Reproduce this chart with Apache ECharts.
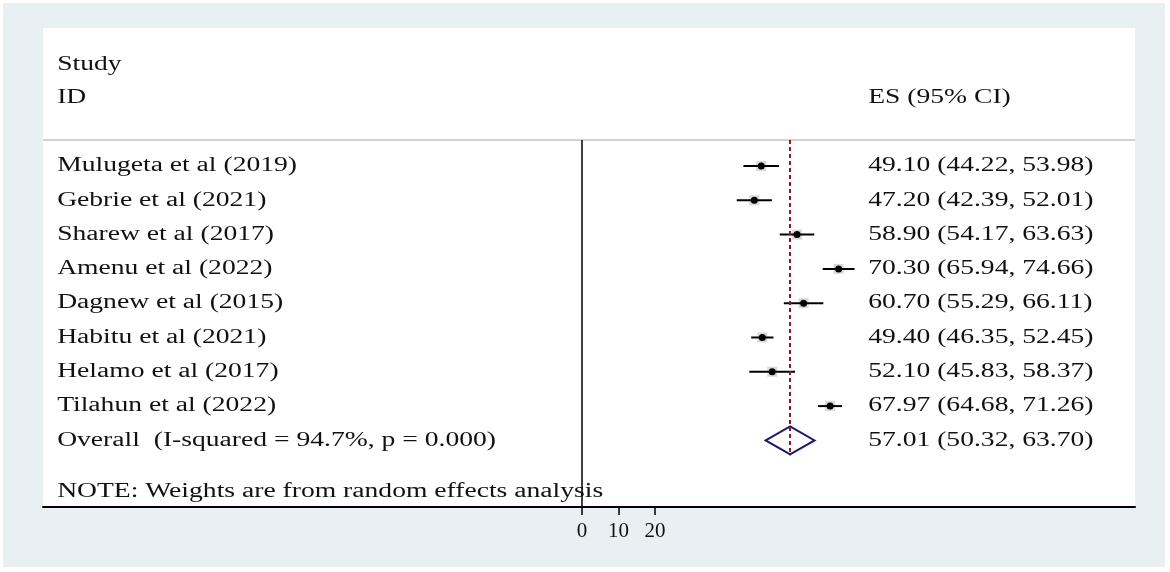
<!DOCTYPE html>
<html>
<head>
<meta charset="UTF-8">
<title>Forest plot</title>
<script src="https://cdn.jsdelivr.net/npm/echarts@6/dist/echarts.min.js"></script>
<style>
    body { margin: 0; background: #ffffff; overflow: hidden; }
    #chart {
        position: absolute;
        left: 3px;
        top: 3px;
        width: 1162px;
        height: 564px;
        background: #e9f0f3;
    }
</style>
</head>
<body>
<div id="chart"></div>
<script>
// study data
const studies = ['Mulugeta et al (2019)', 'Gebrie et al (2021)', 'Sharew et al (2017)', 'Amenu et al (2022)',
    'Dagnew et al (2015)', 'Habitu et al (2021)', 'Helamo et al (2017)', 'Tilahun et al (2022)'];
const es = [49.10, 47.20, 58.90, 70.30, 60.70, 49.40, 52.10, 67.97];
const ciLow = [44.22, 42.39, 54.17, 65.94, 55.29, 46.35, 45.83, 64.68];
const ciHigh = [53.98, 52.01, 63.63, 74.66, 66.11, 52.45, 58.37, 71.26];

// pooled estimate
const overallLabel = 'Overall  (I-squared = 94.7%, p = 0.000)';
const overallEs = [57.01];
const overallLow = [50.32];
const overallHigh = [63.70];

// texts and ticks
const headerLabels = ['Study', 'ID'];
const esHeader = 'ES (95% CI)';
const noteText = 'NOTE: Weights are from random effects analysis';
const xTicks = [0, 10, 20];

// layout in axis units
const X_MIN = -147.67, X_MAX = 151.5;
const Y_MIN = -4.023, Y_MAX = 9.942;
const LABEL_X = -143.8, VALUE_X = 78.4;
const HEADER_Y = -0.76;
const OVERALL_ROW = studies.length;
const FONT = '20px "Liberation Serif", "Times New Roman", serif';
const STRETCH = 1.38;

function fmt(v) { return v.toFixed(2); }

// every text line: [x, row, text]
const textRows = [
    [LABEL_X, -2.94, headerLabels[0]],
    [LABEL_X, -1.98, headerLabels[1]],
    [VALUE_X, -1.98, esHeader]
];
studies.forEach(function(name, i) {
    textRows.push([LABEL_X, i, name]);
    textRows.push([VALUE_X, i, fmt(es[i]) + ' (' + fmt(ciLow[i]) + ', ' + fmt(ciHigh[i]) + ')']);
});
textRows.push([LABEL_X, OVERALL_ROW, overallLabel]);
textRows.push([VALUE_X, OVERALL_ROW, fmt(overallEs[0]) + ' (' + fmt(overallLow[0]) + ', ' + fmt(overallHigh[0]) + ')']);
textRows.push([LABEL_X, 9.5, noteText]);

const ciData = studies.map(function(name, i) {
    return [es[i], ciLow[i], ciHigh[i], i];
});

const chart = echarts.init(document.getElementById('chart'));

const option = {
    animation: false,
    grid: {
        left: 40, right: 30, top: 25, bottom: 60,
        show: true, backgroundColor: '#ffffff', borderWidth: 0
    },
    xAxis: {
        type: 'value',
        min: X_MIN,
        max: X_MAX,
        splitLine: { show: false },
        axisLine: { show: true, onZero: false, lineStyle: { color: '#000000', width: 2 } },
        axisTick: {
            show: true, length: 8, customValues: xTicks,
            lineStyle: { color: '#000000', width: 1.5 }
        },
        axisLabel: {
            customValues: xTicks,
            margin: 14,
            color: '#111111',
            fontFamily: '"Liberation Serif", serif',
            fontSize: 21
        }
    },
    yAxis: {
        type: 'value',
        inverse: true,
        min: Y_MIN,
        max: Y_MAX,
        show: false
    },
    series: [
        {
            // header separator, null line, pooled estimate line
            type: 'line',
            data: [],
            markLine: {
                silent: true,
                symbol: 'none',
                label: { show: false },
                data: [
                    [{ coord: [X_MIN, HEADER_Y], lineStyle: { color: '#d2d2d2', width: 2, type: 'solid' } },
                     { coord: [X_MAX, HEADER_Y] }],
                    [{ coord: [0, HEADER_Y], lineStyle: { color: '#000000', width: 1.5, type: 'solid' } },
                     { coord: [0, Y_MAX] }],
                    [{ coord: [overallEs[0], HEADER_Y], lineStyle: { color: '#8e1b1b', width: 2, type: [4, 3] } },
                     { coord: [overallEs[0], 8.43] }]
                ]
            }
        },
        {
            // study CI lines, weight boxes and points
            type: 'custom',
            data: ciData,
            renderItem: function(params, api) {
                const y = api.value(3);
                const p = api.coord([api.value(0), y]);
                const a = api.coord([api.value(1), y]);
                const b = api.coord([api.value(2), y]);
                return {
                    type: 'group',
                    children: [
                        { type: 'rect', shape: { x: p[0] - 5, y: p[1] - 5, width: 10, height: 10 },
                          style: { fill: '#d9d9d9' } },
                        { type: 'line', shape: { x1: a[0], y1: a[1], x2: b[0], y2: b[1] },
                          style: { stroke: '#000000', lineWidth: 2 } },
                        { type: 'circle', shape: { cx: p[0], cy: p[1], r: 3.5 },
                          style: { fill: '#000000' } }
                    ]
                };
            }
        },
        {
            // pooled diamond
            type: 'custom',
            data: [[overallEs[0], overallLow[0], overallHigh[0], OVERALL_ROW]],
            renderItem: function(params, api) {
                const y = api.value(3);
                const l = api.coord([api.value(1), y]);
                const r = api.coord([api.value(2), y]);
                const top = api.coord([api.value(0), y - 0.41]);
                const bot = api.coord([api.value(0), y + 0.41]);
                return {
                    type: 'polygon',
                    shape: { points: [[l[0], l[1]], [top[0], top[1]], [r[0], r[1]], [bot[0], bot[1]]] },
                    style: { fill: 'none', stroke: '#1b1b6b', lineWidth: 2 }
                };
            }
        },
        {
            // texts
            type: 'custom',
            data: textRows.map(function(t) { return [t[0], t[1]]; }),
            renderItem: function(params, api) {
                const pt = api.coord([api.value(0), api.value(1)]);
                return {
                    type: 'text',
                    x: pt[0],
                    y: pt[1],
                    scaleX: STRETCH,
                    style: {
                        x: 0, y: 0,
                        text: textRows[params.dataIndex][2],
                        font: FONT,
                        fill: '#111111',
                        textAlign: 'left',
                        textVerticalAlign: 'middle'
                    }
                };
            }
        }
    ]
};

chart.setOption(option);
</script>
</body>
</html>
